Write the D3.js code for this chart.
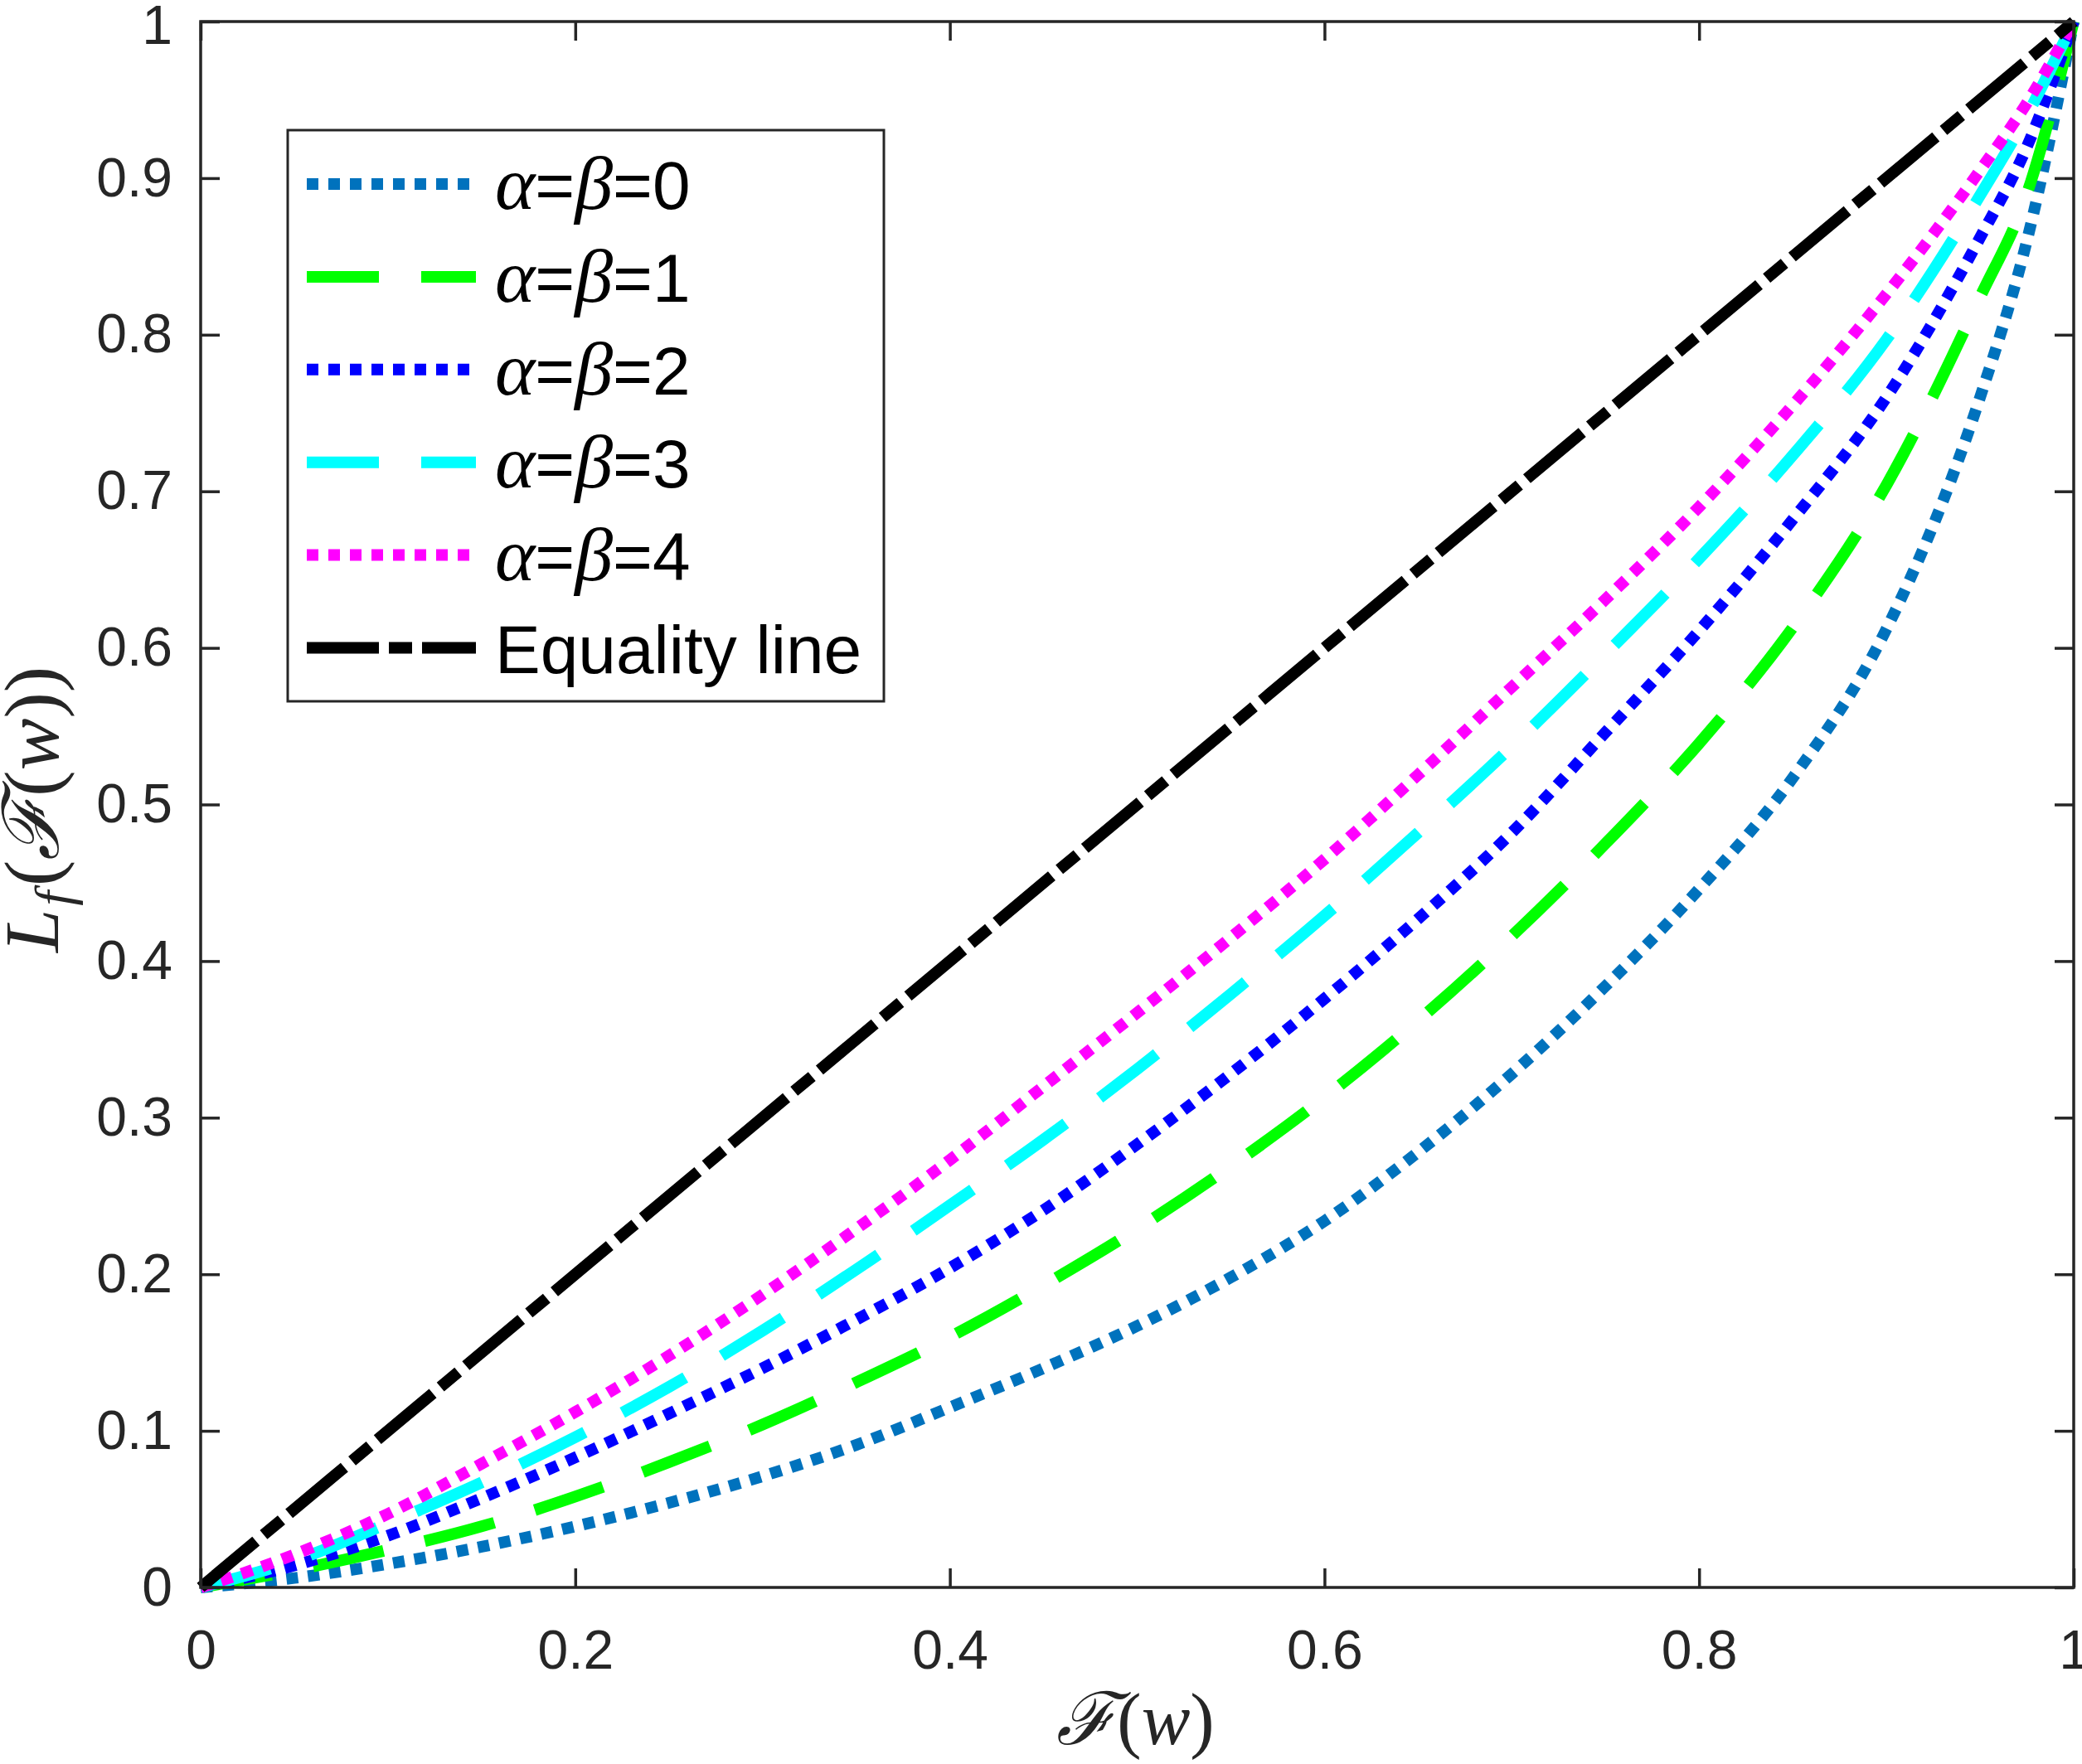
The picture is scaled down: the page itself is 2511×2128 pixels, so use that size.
<!DOCTYPE html>
<html>
<head>
<meta charset="utf-8">
<script src="https://cdn.jsdelivr.net/npm/d3@7"></script>
<style>
  html, body { margin: 0; padding: 0; background: #fff; }
  svg { display: block; }
</style>
</head>
<body>
<script>
// ---- data ----
const Fgrid = [0, 0.05, 0.1, 0.15, 0.2, 0.25, 0.3, 0.35, 0.4, 0.45, 0.5, 0.55, 0.6, 0.65, 0.7, 0.75, 0.8, 0.85, 0.9, 0.95, 0.975, 1];
const L_ab0 = [0, 0.006, 0.015, 0.026, 0.039, 0.054, 0.071, 0.091, 0.115, 0.140, 0.167, 0.198, 0.234, 0.278, 0.328, 0.384, 0.446, 0.517, 0.612, 0.760, 0.860, 1];
const L_ab1 = [0, 0.011, 0.024, 0.039, 0.058, 0.080, 0.104, 0.131, 0.160, 0.193, 0.229, 0.269, 0.313, 0.362, 0.416, 0.475, 0.539, 0.613, 0.704, 0.824, 0.890, 1];
const L_ab2 = [0, 0.014, 0.033, 0.057, 0.083, 0.111, 0.140, 0.171, 0.204, 0.241, 0.283, 0.328, 0.376, 0.427, 0.482, 0.546, 0.611, 0.682, 0.760, 0.862, 0.920, 1];
const L_ab3 = [0, 0.017, 0.041, 0.067, 0.096, 0.128, 0.164, 0.203, 0.244, 0.286, 0.331, 0.379, 0.429, 0.482, 0.537, 0.596, 0.657, 0.723, 0.797, 0.889, 0.940, 1];
const L_ab4 = [0, 0.021, 0.047, 0.079, 0.112, 0.148, 0.187, 0.229, 0.273, 0.320, 0.367, 0.415, 0.465, 0.519, 0.575, 0.631, 0.690, 0.755, 0.826, 0.905, 0.948, 1];
const equalityF = [0, 1];
const equalityL = [0, 1];
const seriesNames = ["0", "1", "2", "3", "4"];
const xTicks = [0, 0.2, 0.4, 0.6, 0.8, 1];
const yTicks = [0, 0.1, 0.2, 0.3, 0.4, 0.5, 0.6, 0.7, 0.8, 0.9, 1];

// ---- styles ----
const W = 2511, H = 2128;
const plot = {left: 242, right: 2501, top: 26, bottom: 1915};
const axisColor = "#262626";
const styles = [
  {color: "#0072BD", dash: "14,12"},
  {color: "#00FF00", dash: "87,51"},
  {color: "#0000FF", dash: "14,12"},
  {color: "#00FFFF", dash: "87,51"},
  {color: "#FF00FF", dash: "14,12"}
];
const eqStyle = {color: "#000000", dash: "87,12,28,12"};
const LW = 14;

const svg = d3.select("body").append("svg").attr("width", W).attr("height", H);
svg.append("rect").attr("width", W).attr("height", H).attr("fill", "#fff");

const x = d3.scaleLinear().domain([0, 1]).range([plot.left, plot.right]);
const y = d3.scaleLinear().domain([0, 1]).range([plot.bottom, plot.top]);

const line = d3.line().x(d => x(d[0])).y(d => y(d[1])).curve(d3.curveMonotoneX);

const curves = [L_ab0, L_ab1, L_ab2, L_ab3, L_ab4];
const gLines = svg.append("g");
curves.forEach((arr, i) => {
  gLines.append("path")
    .attr("d", line(Fgrid.map((f, j) => [f, arr[j]])))
    .attr("fill", "none")
    .attr("stroke", styles[i].color)
    .attr("stroke-width", LW)
    .attr("stroke-dasharray", styles[i].dash)
    .attr("stroke-linecap", "butt")
    .attr("stroke-linejoin", "round");
});
gLines.append("path")
  .attr("d", line(equalityF.map((f, j) => [f, equalityL[j]])))
  .attr("fill", "none")
  .attr("stroke", eqStyle.color)
  .attr("stroke-width", LW)
  .attr("stroke-dasharray", eqStyle.dash)
  .attr("stroke-linecap", "butt");

// ---- axes ----
const tickLen = 23;
const fmt = d => (d === 0 ? "0" : d === 1 ? "1" : d3.format(".1f")(d));
function styleAxis(g) {
  g.select(".domain").remove();
  g.selectAll(".tick line").attr("stroke", axisColor).attr("stroke-width", 3.5);
  g.selectAll(".tick text").attr("fill", axisColor)
    .style("font-family", "'Liberation Sans', Arial, Helvetica, sans-serif")
    .style("font-size", "66px");
}
svg.append("g").attr("transform", `translate(0,${plot.bottom})`)
  .call(d3.axisBottom(x).tickValues(xTicks).tickFormat(fmt).tickSizeInner(-tickLen).tickSizeOuter(0).tickPadding(51))
  .call(styleAxis);
svg.append("g").attr("transform", `translate(0,${plot.top})`)
  .call(d3.axisTop(x).tickValues(xTicks).tickFormat("").tickSizeInner(-tickLen).tickSizeOuter(0))
  .call(styleAxis);
const yAxisG = svg.append("g").attr("transform", `translate(${plot.left},0)`)
  .call(d3.axisLeft(y).tickValues(yTicks).tickFormat(fmt).tickSizeInner(-tickLen).tickSizeOuter(0).tickPadding(34))
  .call(styleAxis);
// keep the top "1" label fully inside the picture
yAxisG.selectAll(".tick text").filter(d => d === 1).attr("dy", "0.36em").attr("y", 3);
svg.append("g").attr("transform", `translate(${plot.right},0)`)
  .call(d3.axisRight(y).tickValues(yTicks).tickFormat("").tickSizeInner(-tickLen).tickSizeOuter(0))
  .call(styleAxis);

// box
svg.append("rect")
  .attr("x", plot.left).attr("y", plot.top)
  .attr("width", plot.right - plot.left).attr("height", plot.bottom - plot.top)
  .attr("fill", "none").attr("stroke", axisColor).attr("stroke-width", 3.5);

// ---- axis labels ----
const serif = "'Liberation Serif', 'DejaVu Serif', 'Times New Roman', serif";
const xl = svg.append("text")
  .attr("x", (plot.left + plot.right) / 2 - 2).attr("y", 2104)
  .attr("text-anchor", "middle")
  .style("font-family", serif).style("font-size", "88px").attr("fill", axisColor);
xl.append("tspan").text("ℱ").style("font-style", "italic");
xl.append("tspan").text("(");
xl.append("tspan").text("w").style("font-style", "italic");
xl.append("tspan").text(")");

const yl = svg.append("text")
  .attr("transform", `translate(70,${(plot.top + plot.bottom) / 2 + 6}) rotate(-90)`)
  .attr("text-anchor", "middle")
  .style("font-family", serif).style("font-size", "94px").attr("fill", axisColor);
yl.append("tspan").text("L").style("font-style", "italic");
yl.append("tspan").text("f").style("font-style", "italic").style("font-size", "64px").attr("dy", 16).attr("dx", 4);
yl.append("tspan").text("(").attr("dy", -16).attr("dx", 6);
yl.append("tspan").text("ℱ").style("font-style", "italic");
yl.append("tspan").text("(");
yl.append("tspan").text("w").style("font-style", "italic");
yl.append("tspan").text("))");

// ---- legend ----
const leg = {x0: 347, y0: 157, x1: 1066, y1: 846};
svg.append("rect")
  .attr("x", leg.x0).attr("y", leg.y0)
  .attr("width", leg.x1 - leg.x0).attr("height", leg.y1 - leg.y0)
  .attr("fill", "#fff").attr("stroke", axisColor).attr("stroke-width", 3);

const rowY0 = 222, rowDy = 111.9;
const sampleX0 = 370, sampleX1 = 574, textX = 597;
const sans = "'Liberation Sans', Arial, Helvetica, sans-serif";
const legendItems = styles.map((s, i) => ({style: s, name: seriesNames[i], eq: false}))
  .concat([{style: eqStyle, name: "Equality line", eq: true}]);
legendItems.forEach((it, i) => {
  const cy = rowY0 + i * rowDy;
  svg.append("line")
    .attr("x1", sampleX0).attr("x2", sampleX1).attr("y1", cy).attr("y2", cy)
    .attr("stroke", it.style.color).attr("stroke-width", LW)
    .attr("stroke-dasharray", it.style.dash);
  const t = svg.append("text").attr("x", textX).attr("y", cy + 30)
    .style("font-family", sans).style("font-size", "82px").attr("fill", "#000");
  if (it.eq) {
    t.text(it.name);
  } else {
    t.append("tspan").text("α").style("font-family", serif).style("font-style", "italic").style("font-size", "92px");
    t.append("tspan").text("=");
    t.append("tspan").text("β").style("font-family", serif).style("font-style", "italic").style("font-size", "92px");
    t.append("tspan").text("=" + it.name);
  }
});
</script>
</body>
</html>
